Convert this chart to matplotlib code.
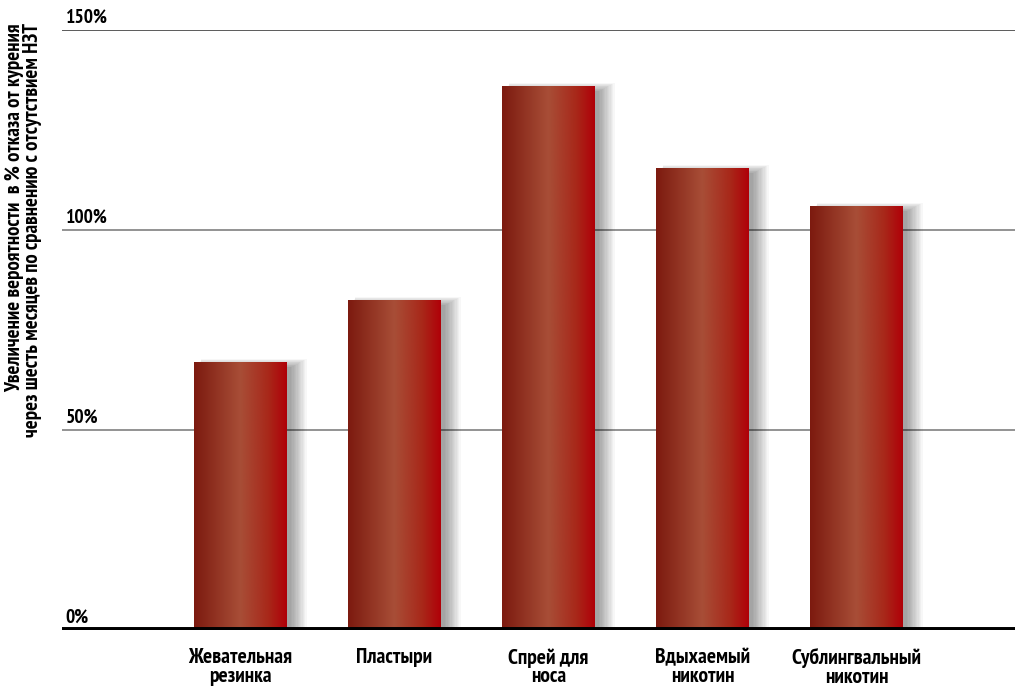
import matplotlib.pyplot as plt
import numpy as np
from matplotlib.colors import LinearSegmentedColormap
from matplotlib.patches import Rectangle

categories = ['Жевательная\nрезинка', 'Пластыри', 'Спрей для\nноса',
              'Вдыхаемый\nникотин', 'Сублингвальный\nникотин']
values = [67, 82.5, 136, 115.5, 106]
yticks = [0, 50, 100, 150]
ytick_labels = ['0%', '50%', '100%', '150%']
ylabel = ('Увеличение вероятности  в % отказа от курения\n'
          'через шесть месяцев по сравнению с отсутствием НЗТ')

plt.rcParams['font.family'] = ['PT Sans Narrow', 'DejaVu Sans']

fig = plt.figure(figsize=(10.15, 6.86), dpi=100)
ax = fig.add_axes([62 / 1015, 56 / 686, 953 / 1015, 600 / 686])

x = np.arange(len(categories))
bars = ax.bar(x, values, width=0.6, color='none', zorder=3)

grad = LinearSegmentedColormap.from_list(
    'bar', [(0.0, '#7c1a0f'), (0.5, '#a84e37'), (0.8, '#a8281a'), (1.0, '#b00008')])
img = np.linspace(0, 1, 256).reshape(1, -1)

px = 1 / 154  # one pixel in x data units
py = 0.25     # one pixel in y data units
for b in bars:
    x0, w, h = b.get_x(), b.get_width(), b.get_height()
    # soft shadow, mostly on the right
    for k in range(1, 14):
        ax.add_patch(Rectangle((x0 + 3 * px + k * px * 0.3, 0),
                               w + k * px, h - 6 * py + k * py * 0.7,
                               facecolor='black', alpha=0.032,
                               edgecolor='none', zorder=2))
    ax.imshow(img, cmap=grad, aspect='auto', extent=(x0, x0 + w, 0, h),
              zorder=4, interpolation='bicubic')

ax.set_xlim(-1.16, 5.03)
ax.set_ylim(0, 150)

for t in [50, 100]:
    ax.axhline(t, color='#808080', lw=1.2, zorder=1)
ax.axhline(150, color='#404040', lw=1.2, zorder=1)
ax.axhline(0, color='black', lw=5, zorder=5)

for t, lab in zip(yticks, ytick_labels):
    ax.text(0.004, t + 0.8, lab, transform=ax.get_yaxis_transform(),
            ha='left', va='bottom', fontsize=14, fontweight='bold')

for xi, lab in zip(x, categories):
    ax.text(xi, -4.6, lab, ha='center', va='top', fontsize=15.5,
            fontweight='bold', linespacing=0.95)

fig.text(0.0236, 1 - 230 / 686, ylabel, rotation=90, ha='center', va='center',
         multialignment='right', fontsize=15, fontweight='bold',
         linespacing=0.92)

for s in ax.spines.values():
    s.set_visible(False)
ax.set_xticks([])
ax.set_yticks([])

fig.savefig('out.png', dpi=100)
